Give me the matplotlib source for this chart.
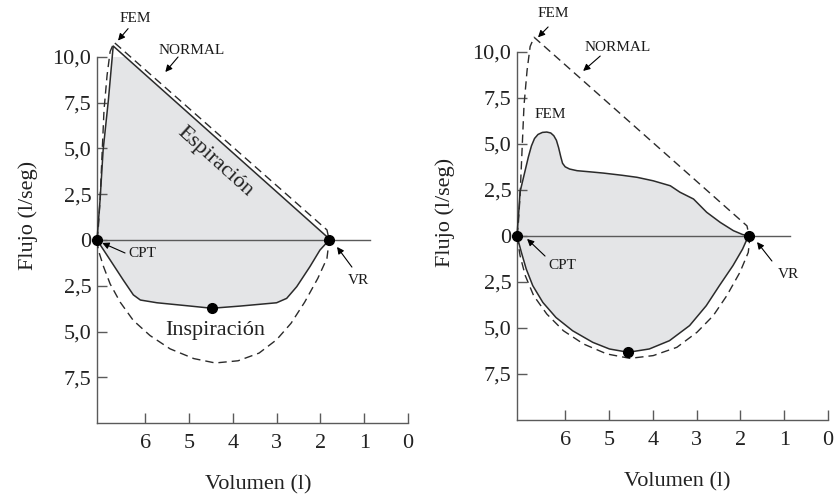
import matplotlib
matplotlib.use('Agg')
import matplotlib.pyplot as plt

plt.rcParams['font.family'] = ['Liberation Serif', 'DejaVu Serif']

# axes ticks
vol_ticks = [6, 5, 4, 3, 2, 1, 0]
flow_ticks = [10, 7.5, 5, 2.5, 0, -2.5, -5, -7.5]
flow_ticklabels = ['10,0', '7,5', '5,0', '2,5', '0', '2,5', '5,0', '7,5']

# NORMAL curve (dashed)
normal_exp_vol = [7.10, 7.07, 7.03, 6.98, 6.94, 6.87, 6.80, 6.71, 1.85, 1.80]
normal_exp_flow = [0, 0.66, 2.19, 4.92, 7.10, 9.00, 10.30, 10.80, 0.55, 0]
# inspiration part as drawn in the left panel
normal_insp_vol_l = [7.10, 7.07, 6.95, 6.80, 6.57, 6.27, 5.89, 5.43, 4.89,
                     4.40, 3.88, 3.40, 3.00, 2.67, 2.36, 2.06, 1.85, 1.80]
normal_insp_flow_l = [0, -0.55, -1.46, -2.40, -3.40, -4.40, -5.22, -5.95,
                      -6.48, -6.72, -6.60, -6.18, -5.45, -4.55, -3.40, -2.10,
                      -1.00, 0]
# inspiration part as drawn in the right panel
normal_insp_vol_r = [7.10, 7.03, 6.91, 6.72, 6.42, 6.04, 5.58, 5.05, 4.52,
                     3.99, 3.45, 2.99, 2.62, 2.31, 2.01, 1.82, 1.78]
normal_insp_flow_r = [0, -1.07, -2.16, -3.24, -4.24, -5.15, -5.87, -6.41,
                      -6.65, -6.50, -6.05, -5.23, -4.33, -3.24, -1.97, -0.89,
                      0]

# left panel, patient loop (solid)
left_exp_vol = [7.10, 7.03, 6.96, 6.84, 6.73, 1.87, 1.80]
left_exp_flow = [0, 2.19, 4.92, 7.65, 10.60, 0.22, 0]
left_insp_vol = [7.10, 6.80, 6.50, 6.27, 6.11, 5.73, 4.97, 4.48, 3.83, 3.00,
                 2.77, 2.54, 2.24, 2.01, 1.80]
left_insp_flow = [0, -1.09, -2.19, -3.00, -3.28, -3.43, -3.61, -3.73, -3.61,
                  -3.43, -3.19, -2.55, -1.46, -0.55, 0]
left_points_vol = [7.10, 1.80, 4.48]
left_points_flow = [0, 0, -3.73]

# right panel, patient loop (solid)
right_exp_vol = [7.10, 7.08, 7.06, 7.03, 6.99, 6.95, 6.90, 6.84, 6.77, 6.70,
                 6.62, 6.52, 6.42, 6.33, 6.26, 6.20, 6.15, 6.10, 6.06, 6.00,
                 5.90, 5.73, 5.40, 5.13, 4.70, 4.36, 3.99, 3.60, 3.38, 3.07,
                 2.77, 2.46, 2.16, 1.95, 1.80]
right_exp_flow = [0, 0.70, 1.30, 2.40, 2.80, 3.20, 3.70, 4.30, 4.90, 5.30,
                  5.52, 5.63, 5.65, 5.60, 5.45, 5.20, 4.80, 4.30, 3.95, 3.76,
                  3.64, 3.55, 3.48, 3.42, 3.30, 3.19, 3.00, 2.73, 2.38, 2.01,
                  1.29, 0.74, 0.29, 0.08, 0]
right_insp_vol = [7.10, 7.00, 6.89, 6.74, 6.51, 6.21, 5.83, 5.37, 4.99, 4.56,
                  4.08, 3.62, 3.16, 2.78, 2.48, 2.17, 1.95, 1.83, 1.80]
right_insp_flow = [0, -0.89, -1.79, -2.70, -3.61, -4.43, -5.15, -5.78, -6.14,
                   -6.32, -6.14, -5.69, -4.87, -3.79, -2.70, -1.61, -0.71,
                   -0.07, 0]
right_points_vol = [7.10, 1.80, 4.56]
right_points_flow = [0, 0, -6.32]

LINE = '#2b2b2b'
AXC = '#5a5a5a'
FILL = '#e4e5e7'


def arrow(ax, tip, start):
    ax.annotate('', xy=tip, xytext=start,
                arrowprops=dict(arrowstyle='-|>', color='black', lw=0.8,
                                mutation_scale=10, shrinkA=0, shrinkB=0),
                annotation_clip=False)


def setup_axes(ax):
    ax.set_xlim(7.1, 0)
    ax.set_ylim(-10, 10)
    for s in ['top', 'right']:
        ax.spines[s].set_visible(False)
    for s in ['left', 'bottom']:
        ax.spines[s].set_color(AXC)
        ax.spines[s].set_linewidth(1.0)
    ax.set_xticks(vol_ticks)
    ax.set_xticklabels([str(v) for v in vol_ticks])
    ax.set_yticks(flow_ticks)
    ax.set_yticklabels(flow_ticklabels)
    ax.tick_params(axis='both', direction='in', length=7, width=1.0,
                   color=AXC, labelsize=16, labelcolor='#222222')
    ax.tick_params(axis='y', pad=4)
    ax.tick_params(axis='x', pad=8)
    ax.axhline(0, xmin=0, xmax=0.877, color=AXC, lw=1.0, zorder=2)
    ax.set_xlabel('Volumen (l)', fontsize=16, color='#222222')
    ax.set_ylabel('Flujo (l/seg)', fontsize=16, color='#222222')
    ax.patch.set_visible(False)


def draw_loop(ax, exp_v, exp_f, insp_v, insp_f, pts_v, pts_f, nin_v, nin_f):
    ax.fill(exp_v + insp_v[::-1], exp_f + insp_f[::-1], color=FILL, lw=0,
            zorder=1)
    ax.plot(normal_exp_vol, normal_exp_flow, color=LINE, lw=1.0,
            dashes=(6, 3.6), clip_on=False, zorder=3)
    ax.plot(nin_v, nin_f, color=LINE, lw=1.0,
            dashes=(6, 3.6), clip_on=False, zorder=3)
    ax.plot(exp_v, exp_f, color=LINE, lw=1.1, clip_on=False, zorder=4)
    ax.plot(insp_v, insp_f, color=LINE, lw=1.1, clip_on=False, zorder=4)
    ax.plot(pts_v, pts_f, 'o', color='black', ms=7, clip_on=False, zorder=5)


fig = plt.figure(figsize=(8.35, 4.95), dpi=100)
ax1 = fig.add_axes([97 / 835, 1 - 423 / 495, 311 / 835, 366 / 495])
ax2 = fig.add_axes([517 / 835, 1 - 420 / 495, 311 / 835, 368 / 495])

for ax in (ax1, ax2):
    setup_axes(ax)
ax1.yaxis.set_label_coords(-0.19, 0.568)
ax2.yaxis.set_label_coords(-0.198, 0.563)
ax1.xaxis.set_label_coords(0.518, -0.142)
ax2.xaxis.set_label_coords(0.514, -0.143)

draw_loop(ax1, left_exp_vol, left_exp_flow, left_insp_vol, left_insp_flow,
          left_points_vol, left_points_flow,
          normal_insp_vol_l, normal_insp_flow_l)
draw_loop(ax2, right_exp_vol, right_exp_flow, right_insp_vol, right_insp_flow,
          right_points_vol, right_points_flow,
          normal_insp_vol_r, normal_insp_flow_r)

small = dict(fontsize=11, color='#1a1a1a', ha='center', va='center')

# left panel labels
ax1.text(6.23, 12.1, 'FEM', **small)
arrow(ax1, (6.62, 10.9), (6.39, 11.55))
ax1.text(4.93, 10.38, 'NORMAL', **small)
arrow(ax1, (5.54, 9.18), (5.25, 10.0))
ax1.text(6.07, -0.75, 'CPT', **small)
arrow(ax1, (6.98, -0.16), (6.46, -0.71))
ax1.text(1.14, -2.2, 'VR', **small)
arrow(ax1, (1.62, -0.38), (1.28, -1.48))
ax1.text(4.40, 4.26, 'Espiración', fontsize=16, color='#222222',
         ha='center', va='center', rotation=-42)
ax1.text(4.40, -4.92, 'Inspiración', fontsize=16, color='#222222',
         ha='center', va='center')

# right panel labels
ax2.text(6.27, 12.07, 'FEM', **small)
arrow(ax2, (6.62, 10.8), (6.39, 11.36))
ax2.text(4.81, 10.27, 'NORMAL', **small)
arrow(ax2, (5.59, 8.97), (5.20, 9.78))
ax2.text(6.34, 6.63, 'FEM', **small)
ax2.text(6.07, -1.63, 'CPT', **small)
arrow(ax2, (6.87, -0.16), (6.46, -1.09))
ax2.text(0.91, -2.07, 'VR', **small)
arrow(ax2, (1.62, -0.33), (1.28, -1.36))

fig.savefig('out.png', dpi=100)
